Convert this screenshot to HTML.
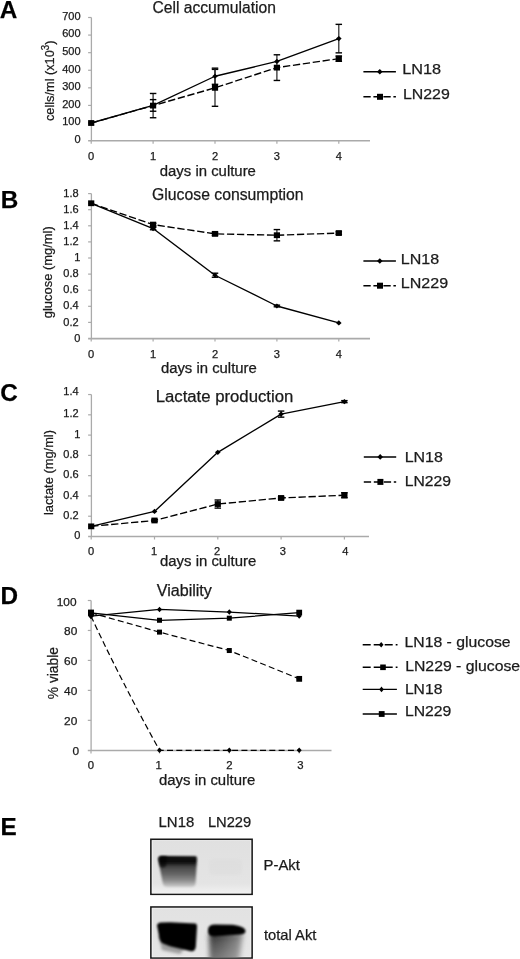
<!DOCTYPE html><html><head><meta charset="utf-8"><style>html,body{margin:0;padding:0;background:#fff;width:520px;height:959px;overflow:hidden}svg{display:block;font-family:"Liberation Sans",sans-serif;filter:grayscale(1)}text{stroke:#1a1a1a;stroke-width:0.25px;paint-order:stroke}</style></head><body>
<svg width="520" height="959" viewBox="0 0 520 959">
<rect width="520" height="959" fill="#fff"/>
<text x="-0.30" y="17.60" font-size="24.3" text-anchor="start" font-weight="bold" fill="#000">A</text>
<text x="0.80" y="207.90" font-size="24.3" text-anchor="start" font-weight="bold" fill="#000">B</text>
<text x="0.20" y="401.30" font-size="24.3" text-anchor="start" font-weight="bold" fill="#000">C</text>
<text x="0.60" y="604.00" font-size="24.3" text-anchor="start" font-weight="bold" fill="#000">D</text>
<text x="0.40" y="834.80" font-size="24.3" text-anchor="start" font-weight="bold" fill="#000">E</text>
<text x="152.50" y="12.50" font-size="16" text-anchor="start" font-weight="normal" fill="#1a1a1a" textLength="123.4" lengthAdjust="spacingAndGlyphs">Cell accumulation</text>
<line x1="91.40" y1="17.50" x2="91.40" y2="141.25" stroke="#aaaaaa" stroke-width="1.3"/>
<line x1="88.10" y1="140.75" x2="370.00" y2="140.75" stroke="#aaaaaa" stroke-width="1.6"/>
<line x1="88.10" y1="123.01" x2="91.40" y2="123.01" stroke="#aaaaaa" stroke-width="1.2"/>
<line x1="88.10" y1="105.43" x2="91.40" y2="105.43" stroke="#aaaaaa" stroke-width="1.2"/>
<line x1="88.10" y1="87.84" x2="91.40" y2="87.84" stroke="#aaaaaa" stroke-width="1.2"/>
<line x1="88.10" y1="70.26" x2="91.40" y2="70.26" stroke="#aaaaaa" stroke-width="1.2"/>
<line x1="88.10" y1="52.67" x2="91.40" y2="52.67" stroke="#aaaaaa" stroke-width="1.2"/>
<line x1="88.10" y1="35.08" x2="91.40" y2="35.08" stroke="#aaaaaa" stroke-width="1.2"/>
<line x1="88.10" y1="17.50" x2="91.40" y2="17.50" stroke="#aaaaaa" stroke-width="1.2"/>
<line x1="91.20" y1="140.75" x2="91.20" y2="143.75" stroke="#aaaaaa" stroke-width="1.2"/>
<line x1="153.10" y1="140.75" x2="153.10" y2="143.75" stroke="#aaaaaa" stroke-width="1.2"/>
<line x1="215.00" y1="140.75" x2="215.00" y2="143.75" stroke="#aaaaaa" stroke-width="1.2"/>
<line x1="276.90" y1="140.75" x2="276.90" y2="143.75" stroke="#aaaaaa" stroke-width="1.2"/>
<line x1="338.80" y1="140.75" x2="338.80" y2="143.75" stroke="#aaaaaa" stroke-width="1.2"/>
<text x="80.60" y="143.00" font-size="10.3" text-anchor="end" font-weight="normal" fill="#1a1a1a" textLength="6.13" lengthAdjust="spacingAndGlyphs">0</text>
<text x="80.60" y="125.41" font-size="10.3" text-anchor="end" font-weight="normal" fill="#1a1a1a" textLength="18.38" lengthAdjust="spacingAndGlyphs">100</text>
<text x="80.60" y="107.83" font-size="10.3" text-anchor="end" font-weight="normal" fill="#1a1a1a" textLength="18.38" lengthAdjust="spacingAndGlyphs">200</text>
<text x="80.60" y="90.24" font-size="10.3" text-anchor="end" font-weight="normal" fill="#1a1a1a" textLength="18.38" lengthAdjust="spacingAndGlyphs">300</text>
<text x="80.60" y="72.66" font-size="10.3" text-anchor="end" font-weight="normal" fill="#1a1a1a" textLength="18.38" lengthAdjust="spacingAndGlyphs">400</text>
<text x="80.60" y="55.07" font-size="10.3" text-anchor="end" font-weight="normal" fill="#1a1a1a" textLength="18.38" lengthAdjust="spacingAndGlyphs">500</text>
<text x="80.60" y="37.48" font-size="10.3" text-anchor="end" font-weight="normal" fill="#1a1a1a" textLength="18.38" lengthAdjust="spacingAndGlyphs">600</text>
<text x="80.60" y="19.90" font-size="10.3" text-anchor="end" font-weight="normal" fill="#1a1a1a" textLength="18.38" lengthAdjust="spacingAndGlyphs">700</text>
<text x="91.20" y="159.60" font-size="10.3" text-anchor="middle" font-weight="normal" fill="#1a1a1a" textLength="6.18" lengthAdjust="spacingAndGlyphs">0</text>
<text x="153.10" y="159.60" font-size="10.3" text-anchor="middle" font-weight="normal" fill="#1a1a1a" textLength="6.18" lengthAdjust="spacingAndGlyphs">1</text>
<text x="215.00" y="159.60" font-size="10.3" text-anchor="middle" font-weight="normal" fill="#1a1a1a" textLength="6.18" lengthAdjust="spacingAndGlyphs">2</text>
<text x="276.90" y="159.60" font-size="10.3" text-anchor="middle" font-weight="normal" fill="#1a1a1a" textLength="6.18" lengthAdjust="spacingAndGlyphs">3</text>
<text x="338.80" y="159.60" font-size="10.3" text-anchor="middle" font-weight="normal" fill="#1a1a1a" textLength="6.18" lengthAdjust="spacingAndGlyphs">4</text>
<text transform="translate(54.2,121) rotate(-90)" font-size="13.2" fill="#1a1a1a" textLength="80.4" lengthAdjust="spacingAndGlyphs">cells/ml (x10<tspan font-size="10" dy="-5">3</tspan><tspan dy="5">)</tspan></text>
<text x="159.80" y="175.90" font-size="14" text-anchor="start" font-weight="normal" fill="#1a1a1a" textLength="96.1" lengthAdjust="spacingAndGlyphs">days in culture</text>
<polyline points="91.20,123.01 153.10,105.60 215.00,87.84 276.90,67.62 338.80,58.65" fill="none" stroke="#000" stroke-width="1.35" stroke-linejoin="round" stroke-dasharray="7.3 2.7"/>
<polyline points="91.20,123.01 153.10,105.43 215.00,76.24 276.90,61.46 338.80,38.60" fill="none" stroke="#000" stroke-width="1.35" stroke-linejoin="round"/>
<line x1="153.10" y1="93.47" x2="153.10" y2="117.74" stroke="#222" stroke-width="1.2"/>
<line x1="149.85" y1="93.47" x2="156.35" y2="93.47" stroke="#000" stroke-width="1.4"/>
<line x1="149.85" y1="117.74" x2="156.35" y2="117.74" stroke="#000" stroke-width="1.4"/>
<line x1="215.00" y1="69.38" x2="215.00" y2="106.31" stroke="#222" stroke-width="1.2"/>
<line x1="211.75" y1="69.38" x2="218.25" y2="69.38" stroke="#000" stroke-width="1.4"/>
<line x1="211.75" y1="106.31" x2="218.25" y2="106.31" stroke="#000" stroke-width="1.4"/>
<line x1="276.90" y1="54.78" x2="276.90" y2="80.46" stroke="#222" stroke-width="1.2"/>
<line x1="273.65" y1="54.78" x2="280.15" y2="54.78" stroke="#000" stroke-width="1.4"/>
<line x1="273.65" y1="80.46" x2="280.15" y2="80.46" stroke="#000" stroke-width="1.4"/>
<line x1="338.80" y1="56.01" x2="338.80" y2="61.29" stroke="#222" stroke-width="1.2"/>
<line x1="335.55" y1="56.01" x2="342.05" y2="56.01" stroke="#000" stroke-width="1.4"/>
<line x1="335.55" y1="61.29" x2="342.05" y2="61.29" stroke="#000" stroke-width="1.4"/>
<line x1="153.10" y1="99.62" x2="153.10" y2="111.23" stroke="#222" stroke-width="1.2"/>
<line x1="149.85" y1="99.62" x2="156.35" y2="99.62" stroke="#000" stroke-width="1.4"/>
<line x1="149.85" y1="111.23" x2="156.35" y2="111.23" stroke="#000" stroke-width="1.4"/>
<line x1="215.00" y1="68.15" x2="215.00" y2="84.32" stroke="#222" stroke-width="1.2"/>
<line x1="211.75" y1="68.15" x2="218.25" y2="68.15" stroke="#000" stroke-width="1.4"/>
<line x1="211.75" y1="84.32" x2="218.25" y2="84.32" stroke="#000" stroke-width="1.4"/>
<line x1="338.80" y1="24.36" x2="338.80" y2="52.85" stroke="#222" stroke-width="1.2"/>
<line x1="335.55" y1="24.36" x2="342.05" y2="24.36" stroke="#000" stroke-width="1.4"/>
<line x1="335.55" y1="52.85" x2="342.05" y2="52.85" stroke="#000" stroke-width="1.4"/>
<rect x="88.10" y="120.11" width="6.2" height="5.8" fill="#000"/>
<rect x="150.00" y="102.70" width="6.2" height="5.8" fill="#000"/>
<rect x="211.90" y="84.94" width="6.2" height="5.8" fill="#000"/>
<rect x="273.80" y="64.72" width="6.2" height="5.8" fill="#000"/>
<rect x="335.70" y="55.75" width="6.2" height="5.8" fill="#000"/>
<path d="M91.20 120.41L94.00 123.01L91.20 125.61L88.40 123.01Z" fill="#000"/>
<path d="M153.10 102.83L155.90 105.43L153.10 108.03L150.30 105.43Z" fill="#000"/>
<path d="M215.00 73.64L217.80 76.24L215.00 78.84L212.20 76.24Z" fill="#000"/>
<path d="M276.90 58.86L279.70 61.46L276.90 64.06L274.10 61.46Z" fill="#000"/>
<path d="M338.80 36.00L341.60 38.60L338.80 41.20L336.00 38.60Z" fill="#000"/>
<line x1="363.40" y1="71.80" x2="395.90" y2="71.80" stroke="#000" stroke-width="1.5"/>
<path d="M379.80 69.00L382.60 71.80L379.80 74.60L377.00 71.80Z" fill="#000"/>
<text x="402.20" y="74.30" font-size="15" text-anchor="start" font-weight="normal" fill="#1a1a1a" textLength="38.9" lengthAdjust="spacingAndGlyphs">LN18</text>
<line x1="363.40" y1="96.80" x2="395.90" y2="96.80" stroke="#000" stroke-width="1.5" stroke-dasharray="7.3 2.7"/>
<rect x="377.00" y="93.80" width="6" height="6" fill="#000"/>
<text x="402.90" y="98.80" font-size="15" text-anchor="start" font-weight="normal" fill="#1a1a1a" textLength="46.9" lengthAdjust="spacingAndGlyphs">LN229</text>
<text x="152.10" y="199.90" font-size="16" text-anchor="start" font-weight="normal" fill="#1a1a1a" textLength="151.5" lengthAdjust="spacingAndGlyphs">Glucose consumption</text>
<line x1="91.40" y1="193.60" x2="91.40" y2="339.10" stroke="#aaaaaa" stroke-width="1.3"/>
<line x1="88.10" y1="338.60" x2="370.00" y2="338.60" stroke="#aaaaaa" stroke-width="1.6"/>
<line x1="88.10" y1="322.40" x2="91.40" y2="322.40" stroke="#aaaaaa" stroke-width="1.2"/>
<line x1="88.10" y1="306.30" x2="91.40" y2="306.30" stroke="#aaaaaa" stroke-width="1.2"/>
<line x1="88.10" y1="290.20" x2="91.40" y2="290.20" stroke="#aaaaaa" stroke-width="1.2"/>
<line x1="88.10" y1="274.10" x2="91.40" y2="274.10" stroke="#aaaaaa" stroke-width="1.2"/>
<line x1="88.10" y1="258.00" x2="91.40" y2="258.00" stroke="#aaaaaa" stroke-width="1.2"/>
<line x1="88.10" y1="241.90" x2="91.40" y2="241.90" stroke="#aaaaaa" stroke-width="1.2"/>
<line x1="88.10" y1="225.80" x2="91.40" y2="225.80" stroke="#aaaaaa" stroke-width="1.2"/>
<line x1="88.10" y1="209.70" x2="91.40" y2="209.70" stroke="#aaaaaa" stroke-width="1.2"/>
<line x1="88.10" y1="193.60" x2="91.40" y2="193.60" stroke="#aaaaaa" stroke-width="1.2"/>
<line x1="91.20" y1="338.60" x2="91.20" y2="341.60" stroke="#aaaaaa" stroke-width="1.2"/>
<line x1="153.10" y1="338.60" x2="153.10" y2="341.60" stroke="#aaaaaa" stroke-width="1.2"/>
<line x1="215.00" y1="338.60" x2="215.00" y2="341.60" stroke="#aaaaaa" stroke-width="1.2"/>
<line x1="276.90" y1="338.60" x2="276.90" y2="341.60" stroke="#aaaaaa" stroke-width="1.2"/>
<line x1="338.80" y1="338.60" x2="338.80" y2="341.60" stroke="#aaaaaa" stroke-width="1.2"/>
<text x="80.40" y="341.60" font-size="10.3" text-anchor="end" font-weight="normal" fill="#1a1a1a" textLength="6.13" lengthAdjust="spacingAndGlyphs">0</text>
<text x="78.60" y="325.50" font-size="10.3" text-anchor="end" font-weight="normal" fill="#1a1a1a" textLength="15.32" lengthAdjust="spacingAndGlyphs">0.2</text>
<text x="78.60" y="309.40" font-size="10.3" text-anchor="end" font-weight="normal" fill="#1a1a1a" textLength="15.32" lengthAdjust="spacingAndGlyphs">0.4</text>
<text x="78.60" y="293.30" font-size="10.3" text-anchor="end" font-weight="normal" fill="#1a1a1a" textLength="15.32" lengthAdjust="spacingAndGlyphs">0.6</text>
<text x="78.60" y="277.20" font-size="10.3" text-anchor="end" font-weight="normal" fill="#1a1a1a" textLength="15.32" lengthAdjust="spacingAndGlyphs">0.8</text>
<text x="80.40" y="261.10" font-size="10.3" text-anchor="end" font-weight="normal" fill="#1a1a1a" textLength="6.13" lengthAdjust="spacingAndGlyphs">1</text>
<text x="78.60" y="245.00" font-size="10.3" text-anchor="end" font-weight="normal" fill="#1a1a1a" textLength="15.32" lengthAdjust="spacingAndGlyphs">1.2</text>
<text x="78.60" y="228.90" font-size="10.3" text-anchor="end" font-weight="normal" fill="#1a1a1a" textLength="15.32" lengthAdjust="spacingAndGlyphs">1.4</text>
<text x="78.60" y="212.80" font-size="10.3" text-anchor="end" font-weight="normal" fill="#1a1a1a" textLength="15.32" lengthAdjust="spacingAndGlyphs">1.6</text>
<text x="78.60" y="196.70" font-size="10.3" text-anchor="end" font-weight="normal" fill="#1a1a1a" textLength="15.32" lengthAdjust="spacingAndGlyphs">1.8</text>
<text x="91.20" y="357.60" font-size="10.3" text-anchor="middle" font-weight="normal" fill="#1a1a1a" textLength="6.18" lengthAdjust="spacingAndGlyphs">0</text>
<text x="153.10" y="357.60" font-size="10.3" text-anchor="middle" font-weight="normal" fill="#1a1a1a" textLength="6.18" lengthAdjust="spacingAndGlyphs">1</text>
<text x="215.00" y="357.60" font-size="10.3" text-anchor="middle" font-weight="normal" fill="#1a1a1a" textLength="6.18" lengthAdjust="spacingAndGlyphs">2</text>
<text x="276.90" y="357.60" font-size="10.3" text-anchor="middle" font-weight="normal" fill="#1a1a1a" textLength="6.18" lengthAdjust="spacingAndGlyphs">3</text>
<text x="338.80" y="357.60" font-size="10.3" text-anchor="middle" font-weight="normal" fill="#1a1a1a" textLength="6.18" lengthAdjust="spacingAndGlyphs">4</text>
<text transform="translate(52.4,318.2) rotate(-90)" font-size="13" fill="#1a1a1a" textLength="91.9" lengthAdjust="spacingAndGlyphs">glucose (mg/ml)</text>
<text x="160.90" y="372.50" font-size="14" text-anchor="start" font-weight="normal" fill="#1a1a1a" textLength="95.9" lengthAdjust="spacingAndGlyphs">days in culture</text>
<polyline points="91.20,203.26 153.10,224.59 215.00,233.85 276.90,235.22 338.80,233.05" fill="none" stroke="#000" stroke-width="1.35" stroke-linejoin="round" stroke-dasharray="7.3 2.7"/>
<polyline points="91.20,203.26 153.10,228.54 215.00,275.23 276.90,305.98 338.80,322.96" fill="none" stroke="#000" stroke-width="1.35" stroke-linejoin="round"/>
<line x1="153.10" y1="223.38" x2="153.10" y2="225.80" stroke="#222" stroke-width="1.2"/>
<line x1="149.85" y1="223.38" x2="156.35" y2="223.38" stroke="#000" stroke-width="1.4"/>
<line x1="149.85" y1="225.80" x2="156.35" y2="225.80" stroke="#000" stroke-width="1.4"/>
<line x1="215.00" y1="232.24" x2="215.00" y2="235.46" stroke="#222" stroke-width="1.2"/>
<line x1="211.75" y1="232.24" x2="218.25" y2="232.24" stroke="#000" stroke-width="1.4"/>
<line x1="211.75" y1="235.46" x2="218.25" y2="235.46" stroke="#000" stroke-width="1.4"/>
<line x1="276.90" y1="229.58" x2="276.90" y2="240.85" stroke="#222" stroke-width="1.2"/>
<line x1="273.65" y1="229.58" x2="280.15" y2="229.58" stroke="#000" stroke-width="1.4"/>
<line x1="273.65" y1="240.85" x2="280.15" y2="240.85" stroke="#000" stroke-width="1.4"/>
<line x1="338.80" y1="231.84" x2="338.80" y2="234.25" stroke="#222" stroke-width="1.2"/>
<line x1="335.55" y1="231.84" x2="342.05" y2="231.84" stroke="#000" stroke-width="1.4"/>
<line x1="335.55" y1="234.25" x2="342.05" y2="234.25" stroke="#000" stroke-width="1.4"/>
<line x1="153.10" y1="227.33" x2="153.10" y2="229.74" stroke="#222" stroke-width="1.2"/>
<line x1="149.85" y1="227.33" x2="156.35" y2="227.33" stroke="#000" stroke-width="1.4"/>
<line x1="149.85" y1="229.74" x2="156.35" y2="229.74" stroke="#000" stroke-width="1.4"/>
<line x1="215.00" y1="273.21" x2="215.00" y2="277.24" stroke="#222" stroke-width="1.2"/>
<line x1="211.75" y1="273.21" x2="218.25" y2="273.21" stroke="#000" stroke-width="1.4"/>
<line x1="211.75" y1="277.24" x2="218.25" y2="277.24" stroke="#000" stroke-width="1.4"/>
<line x1="276.90" y1="305.17" x2="276.90" y2="306.78" stroke="#222" stroke-width="1.2"/>
<line x1="273.65" y1="305.17" x2="280.15" y2="305.17" stroke="#000" stroke-width="1.4"/>
<line x1="273.65" y1="306.78" x2="280.15" y2="306.78" stroke="#000" stroke-width="1.4"/>
<rect x="88.10" y="200.36" width="6.2" height="5.8" fill="#000"/>
<rect x="150.00" y="221.69" width="6.2" height="5.8" fill="#000"/>
<rect x="211.90" y="230.95" width="6.2" height="5.8" fill="#000"/>
<rect x="273.80" y="232.32" width="6.2" height="5.8" fill="#000"/>
<rect x="335.70" y="230.15" width="6.2" height="5.8" fill="#000"/>
<path d="M91.20 200.66L94.00 203.26L91.20 205.86L88.40 203.26Z" fill="#000"/>
<path d="M153.10 225.94L155.90 228.54L153.10 231.14L150.30 228.54Z" fill="#000"/>
<path d="M215.00 272.63L217.80 275.23L215.00 277.83L212.20 275.23Z" fill="#000"/>
<path d="M276.90 303.38L279.70 305.98L276.90 308.58L274.10 305.98Z" fill="#000"/>
<path d="M338.80 320.36L341.60 322.96L338.80 325.56L336.00 322.96Z" fill="#000"/>
<line x1="363.40" y1="261.00" x2="395.90" y2="261.00" stroke="#000" stroke-width="1.5"/>
<path d="M379.80 258.20L382.60 261.00L379.80 263.80L377.00 261.00Z" fill="#000"/>
<text x="400.80" y="263.50" font-size="15" text-anchor="start" font-weight="normal" fill="#1a1a1a" textLength="38.3" lengthAdjust="spacingAndGlyphs">LN18</text>
<line x1="363.40" y1="285.70" x2="395.90" y2="285.70" stroke="#000" stroke-width="1.5" stroke-dasharray="7.3 2.7"/>
<rect x="377.00" y="282.70" width="6" height="6" fill="#000"/>
<text x="400.80" y="287.50" font-size="15" text-anchor="start" font-weight="normal" fill="#1a1a1a" textLength="47.3" lengthAdjust="spacingAndGlyphs">LN229</text>
<text x="155.70" y="401.60" font-size="16" text-anchor="start" font-weight="normal" fill="#1a1a1a" textLength="137.6" lengthAdjust="spacingAndGlyphs">Lactate production</text>
<line x1="91.40" y1="394.54" x2="91.40" y2="537.00" stroke="#aaaaaa" stroke-width="1.3"/>
<line x1="88.10" y1="536.50" x2="369.00" y2="536.50" stroke="#aaaaaa" stroke-width="1.6"/>
<line x1="88.10" y1="516.22" x2="91.40" y2="516.22" stroke="#aaaaaa" stroke-width="1.2"/>
<line x1="88.10" y1="495.94" x2="91.40" y2="495.94" stroke="#aaaaaa" stroke-width="1.2"/>
<line x1="88.10" y1="475.66" x2="91.40" y2="475.66" stroke="#aaaaaa" stroke-width="1.2"/>
<line x1="88.10" y1="455.38" x2="91.40" y2="455.38" stroke="#aaaaaa" stroke-width="1.2"/>
<line x1="88.10" y1="435.10" x2="91.40" y2="435.10" stroke="#aaaaaa" stroke-width="1.2"/>
<line x1="88.10" y1="414.82" x2="91.40" y2="414.82" stroke="#aaaaaa" stroke-width="1.2"/>
<line x1="88.10" y1="394.54" x2="91.40" y2="394.54" stroke="#aaaaaa" stroke-width="1.2"/>
<line x1="91.20" y1="536.50" x2="91.20" y2="539.50" stroke="#aaaaaa" stroke-width="1.2"/>
<line x1="154.50" y1="536.50" x2="154.50" y2="539.50" stroke="#aaaaaa" stroke-width="1.2"/>
<line x1="217.80" y1="536.50" x2="217.80" y2="539.50" stroke="#aaaaaa" stroke-width="1.2"/>
<line x1="281.10" y1="536.50" x2="281.10" y2="539.50" stroke="#aaaaaa" stroke-width="1.2"/>
<line x1="344.40" y1="536.50" x2="344.40" y2="539.50" stroke="#aaaaaa" stroke-width="1.2"/>
<text x="80.40" y="539.10" font-size="10.3" text-anchor="end" font-weight="normal" fill="#1a1a1a" textLength="6.13" lengthAdjust="spacingAndGlyphs">0</text>
<text x="78.60" y="518.82" font-size="10.3" text-anchor="end" font-weight="normal" fill="#1a1a1a" textLength="15.32" lengthAdjust="spacingAndGlyphs">0.2</text>
<text x="78.60" y="498.54" font-size="10.3" text-anchor="end" font-weight="normal" fill="#1a1a1a" textLength="15.32" lengthAdjust="spacingAndGlyphs">0.4</text>
<text x="78.60" y="478.26" font-size="10.3" text-anchor="end" font-weight="normal" fill="#1a1a1a" textLength="15.32" lengthAdjust="spacingAndGlyphs">0.6</text>
<text x="78.60" y="457.98" font-size="10.3" text-anchor="end" font-weight="normal" fill="#1a1a1a" textLength="15.32" lengthAdjust="spacingAndGlyphs">0.8</text>
<text x="80.40" y="437.70" font-size="10.3" text-anchor="end" font-weight="normal" fill="#1a1a1a" textLength="6.13" lengthAdjust="spacingAndGlyphs">1</text>
<text x="78.60" y="417.42" font-size="10.3" text-anchor="end" font-weight="normal" fill="#1a1a1a" textLength="15.32" lengthAdjust="spacingAndGlyphs">1.2</text>
<text x="78.60" y="395.14" font-size="10.3" text-anchor="end" font-weight="normal" fill="#1a1a1a" textLength="15.32" lengthAdjust="spacingAndGlyphs">1.4</text>
<text x="91.20" y="555.00" font-size="10.3" text-anchor="middle" font-weight="normal" fill="#1a1a1a" textLength="6.18" lengthAdjust="spacingAndGlyphs">0</text>
<text x="154.00" y="555.00" font-size="10.3" text-anchor="middle" font-weight="normal" fill="#1a1a1a" textLength="6.18" lengthAdjust="spacingAndGlyphs">1</text>
<text x="217.00" y="555.00" font-size="10.3" text-anchor="middle" font-weight="normal" fill="#1a1a1a" textLength="6.18" lengthAdjust="spacingAndGlyphs">2</text>
<text x="282.80" y="555.00" font-size="10.3" text-anchor="middle" font-weight="normal" fill="#1a1a1a" textLength="6.18" lengthAdjust="spacingAndGlyphs">3</text>
<text x="345.30" y="555.00" font-size="10.3" text-anchor="middle" font-weight="normal" fill="#1a1a1a" textLength="6.18" lengthAdjust="spacingAndGlyphs">4</text>
<text transform="translate(53.2,515.1) rotate(-90)" font-size="13" fill="#1a1a1a" textLength="85.1" lengthAdjust="spacingAndGlyphs">lactate (mg/ml)</text>
<text x="160.00" y="566.00" font-size="14" text-anchor="start" font-weight="normal" fill="#1a1a1a" textLength="96.2" lengthAdjust="spacingAndGlyphs">days in culture</text>
<polyline points="91.20,526.36 154.50,520.48 217.80,504.05 281.10,497.97 344.40,495.23" fill="none" stroke="#000" stroke-width="1.35" stroke-linejoin="round" stroke-dasharray="7.3 2.7"/>
<polyline points="91.20,526.36 154.50,511.45 217.80,452.34 281.10,414.11 344.40,401.64" fill="none" stroke="#000" stroke-width="1.35" stroke-linejoin="round"/>
<line x1="154.50" y1="519.46" x2="154.50" y2="521.49" stroke="#222" stroke-width="1.2"/>
<line x1="151.25" y1="519.46" x2="157.75" y2="519.46" stroke="#000" stroke-width="1.4"/>
<line x1="151.25" y1="521.49" x2="157.75" y2="521.49" stroke="#000" stroke-width="1.4"/>
<line x1="217.80" y1="500.00" x2="217.80" y2="508.11" stroke="#222" stroke-width="1.2"/>
<line x1="214.55" y1="500.00" x2="221.05" y2="500.00" stroke="#000" stroke-width="1.4"/>
<line x1="214.55" y1="508.11" x2="221.05" y2="508.11" stroke="#000" stroke-width="1.4"/>
<line x1="281.10" y1="496.95" x2="281.10" y2="498.98" stroke="#222" stroke-width="1.2"/>
<line x1="277.85" y1="496.95" x2="284.35" y2="496.95" stroke="#000" stroke-width="1.4"/>
<line x1="277.85" y1="498.98" x2="284.35" y2="498.98" stroke="#000" stroke-width="1.4"/>
<line x1="344.40" y1="492.70" x2="344.40" y2="497.77" stroke="#222" stroke-width="1.2"/>
<line x1="341.15" y1="492.70" x2="347.65" y2="492.70" stroke="#000" stroke-width="1.4"/>
<line x1="341.15" y1="497.77" x2="347.65" y2="497.77" stroke="#000" stroke-width="1.4"/>
<line x1="281.10" y1="411.07" x2="281.10" y2="417.15" stroke="#222" stroke-width="1.2"/>
<line x1="277.85" y1="411.07" x2="284.35" y2="411.07" stroke="#000" stroke-width="1.4"/>
<line x1="277.85" y1="417.15" x2="284.35" y2="417.15" stroke="#000" stroke-width="1.4"/>
<line x1="344.40" y1="400.62" x2="344.40" y2="402.65" stroke="#222" stroke-width="1.2"/>
<line x1="341.15" y1="400.62" x2="347.65" y2="400.62" stroke="#000" stroke-width="1.4"/>
<line x1="341.15" y1="402.65" x2="347.65" y2="402.65" stroke="#000" stroke-width="1.4"/>
<rect x="88.10" y="523.46" width="6.2" height="5.8" fill="#000"/>
<rect x="151.40" y="517.58" width="6.2" height="5.8" fill="#000"/>
<rect x="214.70" y="501.15" width="6.2" height="5.8" fill="#000"/>
<rect x="278.00" y="495.07" width="6.2" height="5.8" fill="#000"/>
<rect x="341.30" y="492.33" width="6.2" height="5.8" fill="#000"/>
<path d="M91.20 523.76L94.00 526.36L91.20 528.96L88.40 526.36Z" fill="#000"/>
<path d="M154.50 508.85L157.30 511.45L154.50 514.05L151.70 511.45Z" fill="#000"/>
<path d="M217.80 449.74L220.60 452.34L217.80 454.94L215.00 452.34Z" fill="#000"/>
<path d="M281.10 411.51L283.90 414.11L281.10 416.71L278.30 414.11Z" fill="#000"/>
<path d="M344.40 399.04L347.20 401.64L344.40 404.24L341.60 401.64Z" fill="#000"/>
<line x1="363.80" y1="456.90" x2="396.20" y2="456.90" stroke="#000" stroke-width="1.5"/>
<path d="M380.20 454.10L383.00 456.90L380.20 459.70L377.40 456.90Z" fill="#000"/>
<text x="404.70" y="462.30" font-size="15" text-anchor="start" font-weight="normal" fill="#1a1a1a" textLength="38.2" lengthAdjust="spacingAndGlyphs">LN18</text>
<line x1="363.80" y1="481.90" x2="396.20" y2="481.90" stroke="#000" stroke-width="1.5" stroke-dasharray="7.3 2.7"/>
<rect x="377.40" y="478.90" width="6" height="6" fill="#000"/>
<text x="404.70" y="486.30" font-size="15" text-anchor="start" font-weight="normal" fill="#1a1a1a" textLength="46.3" lengthAdjust="spacingAndGlyphs">LN229</text>
<text x="156.70" y="595.80" font-size="16" text-anchor="start" font-weight="normal" fill="#1a1a1a" textLength="55.2" lengthAdjust="spacingAndGlyphs">Viability</text>
<line x1="91.10" y1="600.50" x2="91.10" y2="751.05" stroke="#aaaaaa" stroke-width="1.3"/>
<line x1="87.80" y1="750.55" x2="331.50" y2="750.55" stroke="#aaaaaa" stroke-width="1.6"/>
<line x1="87.80" y1="720.34" x2="91.10" y2="720.34" stroke="#aaaaaa" stroke-width="1.2"/>
<line x1="87.80" y1="690.38" x2="91.10" y2="690.38" stroke="#aaaaaa" stroke-width="1.2"/>
<line x1="87.80" y1="660.42" x2="91.10" y2="660.42" stroke="#aaaaaa" stroke-width="1.2"/>
<line x1="87.80" y1="630.46" x2="91.10" y2="630.46" stroke="#aaaaaa" stroke-width="1.2"/>
<line x1="87.80" y1="600.50" x2="91.10" y2="600.50" stroke="#aaaaaa" stroke-width="1.2"/>
<line x1="91.00" y1="750.55" x2="91.00" y2="753.55" stroke="#aaaaaa" stroke-width="1.2"/>
<line x1="159.50" y1="750.55" x2="159.50" y2="753.55" stroke="#aaaaaa" stroke-width="1.2"/>
<line x1="229.30" y1="750.55" x2="229.30" y2="753.55" stroke="#aaaaaa" stroke-width="1.2"/>
<line x1="299.20" y1="750.55" x2="299.20" y2="753.55" stroke="#aaaaaa" stroke-width="1.2"/>
<text x="79.20" y="754.50" font-size="10.8" text-anchor="end" font-weight="normal" fill="#1a1a1a" textLength="6.61" lengthAdjust="spacingAndGlyphs">0</text>
<text x="77.30" y="724.54" font-size="10.8" text-anchor="end" font-weight="normal" fill="#1a1a1a" textLength="13.21" lengthAdjust="spacingAndGlyphs">20</text>
<text x="77.30" y="694.58" font-size="10.8" text-anchor="end" font-weight="normal" fill="#1a1a1a" textLength="13.21" lengthAdjust="spacingAndGlyphs">40</text>
<text x="77.30" y="664.62" font-size="10.8" text-anchor="end" font-weight="normal" fill="#1a1a1a" textLength="13.21" lengthAdjust="spacingAndGlyphs">60</text>
<text x="77.30" y="634.66" font-size="10.8" text-anchor="end" font-weight="normal" fill="#1a1a1a" textLength="13.21" lengthAdjust="spacingAndGlyphs">80</text>
<text x="76.50" y="605.90" font-size="10.8" text-anchor="end" font-weight="normal" fill="#1a1a1a" textLength="19.82" lengthAdjust="spacingAndGlyphs">100</text>
<text x="91.00" y="768.80" font-size="10.5" text-anchor="middle" font-weight="normal" fill="#1a1a1a" textLength="6.31" lengthAdjust="spacingAndGlyphs">0</text>
<text x="158.60" y="768.80" font-size="10.5" text-anchor="middle" font-weight="normal" fill="#1a1a1a" textLength="6.31" lengthAdjust="spacingAndGlyphs">1</text>
<text x="229.50" y="768.80" font-size="10.5" text-anchor="middle" font-weight="normal" fill="#1a1a1a" textLength="6.31" lengthAdjust="spacingAndGlyphs">2</text>
<text x="300.40" y="768.80" font-size="10.5" text-anchor="middle" font-weight="normal" fill="#1a1a1a" textLength="6.31" lengthAdjust="spacingAndGlyphs">3</text>
<text transform="translate(58.4,699.2) rotate(-90)" font-size="14.5" fill="#1a1a1a" textLength="52.1" lengthAdjust="spacingAndGlyphs">% viable</text>
<text x="159.00" y="785.40" font-size="14" text-anchor="start" font-weight="normal" fill="#1a1a1a" textLength="96.2" lengthAdjust="spacingAndGlyphs">days in culture</text>
<path d="M91.0 616.23 Q122.2 683 159.5 750.30 L229.3 750.30 L299.2 750.30" fill="none" stroke="#000" stroke-width="1.2" stroke-dasharray="6 3.3"/>
<polyline points="91.00,612.78 159.50,632.11 229.30,650.53 299.20,678.85" fill="none" stroke="#000" stroke-width="1.2" stroke-linejoin="round" stroke-dasharray="6 3.3"/>
<polyline points="91.00,616.23 159.50,609.49 229.30,612.03 299.20,616.08" fill="none" stroke="#000" stroke-width="1.25" stroke-linejoin="round"/>
<polyline points="91.00,612.78 159.50,620.27 229.30,618.18 299.20,612.63" fill="none" stroke="#000" stroke-width="1.25" stroke-linejoin="round"/>
<rect x="88.00" y="609.78" width="6.0" height="6.0" fill="#000"/>
<rect x="157.00" y="629.61" width="5.0" height="5.0" fill="#000"/>
<rect x="226.80" y="648.03" width="5.0" height="5.0" fill="#000"/>
<rect x="296.30" y="675.95" width="5.8" height="5.8" fill="#000"/>
<rect x="88.00" y="609.78" width="6.0" height="6.0" fill="#000"/>
<rect x="157.00" y="617.77" width="5.0" height="5.0" fill="#000"/>
<rect x="226.80" y="615.68" width="5.0" height="5.0" fill="#000"/>
<rect x="296.30" y="609.73" width="5.8" height="5.8" fill="#000"/>
<path d="M91.00 613.53L93.50 616.23L91.00 618.93L88.50 616.23Z" fill="#000"/>
<path d="M159.50 747.60L162.00 750.30L159.50 753.00L157.00 750.30Z" fill="#000"/>
<path d="M229.30 747.60L231.80 750.30L229.30 753.00L226.80 750.30Z" fill="#000"/>
<path d="M299.20 747.60L301.70 750.30L299.20 753.00L296.70 750.30Z" fill="#000"/>
<path d="M91.00 613.53L93.50 616.23L91.00 618.93L88.50 616.23Z" fill="#000"/>
<path d="M159.50 606.79L162.00 609.49L159.50 612.19L157.00 609.49Z" fill="#000"/>
<path d="M229.30 609.33L231.80 612.03L229.30 614.73L226.80 612.03Z" fill="#000"/>
<path d="M299.20 613.38L301.70 616.08L299.20 618.78L296.70 616.08Z" fill="#000"/>
<line x1="362.70" y1="644.70" x2="397.50" y2="644.70" stroke="#000" stroke-width="1.4" stroke-dasharray="8 3"/>
<path d="M381.20 641.90L383.50 644.70L381.20 647.50L378.90 644.70Z" fill="#000"/>
<text x="404.50" y="646.80" font-size="15" text-anchor="start" font-weight="normal" fill="#1a1a1a" textLength="106.1" lengthAdjust="spacingAndGlyphs">LN18 - glucose</text>
<line x1="362.70" y1="667.30" x2="397.50" y2="667.30" stroke="#000" stroke-width="1.4" stroke-dasharray="8 3"/>
<rect x="380.20" y="664.50" width="5.6" height="5.6" fill="#000"/>
<text x="405.20" y="670.80" font-size="15" text-anchor="start" font-weight="normal" fill="#1a1a1a" textLength="114.9" lengthAdjust="spacingAndGlyphs">LN229 - glucose</text>
<line x1="362.70" y1="689.40" x2="396.90" y2="689.40" stroke="#000" stroke-width="1.4"/>
<path d="M381.50 686.60L383.80 689.40L381.50 692.20L379.20 689.40Z" fill="#000"/>
<text x="404.90" y="693.50" font-size="15" text-anchor="start" font-weight="normal" fill="#1a1a1a" textLength="37.5" lengthAdjust="spacingAndGlyphs">LN18</text>
<line x1="362.70" y1="714.00" x2="396.90" y2="714.00" stroke="#000" stroke-width="1.4"/>
<rect x="378.80" y="711.10" width="5.8" height="5.8" fill="#000"/>
<text x="404.90" y="716.30" font-size="15" text-anchor="start" font-weight="normal" fill="#1a1a1a" textLength="46.5" lengthAdjust="spacingAndGlyphs">LN229</text>
<text x="158.60" y="827.00" font-size="14.5" text-anchor="start" font-weight="normal" fill="#1a1a1a" textLength="35.6" lengthAdjust="spacingAndGlyphs">LN18</text>
<text x="207.90" y="827.00" font-size="14.5" text-anchor="start" font-weight="normal" fill="#1a1a1a" textLength="43.3" lengthAdjust="spacingAndGlyphs">LN229</text>
<text x="263.60" y="870.40" font-size="14.5" text-anchor="start" font-weight="normal" fill="#1a1a1a" textLength="36.3" lengthAdjust="spacingAndGlyphs">P-Akt</text>
<text x="264.00" y="939.60" font-size="14.5" text-anchor="start" font-weight="normal" fill="#1a1a1a" textLength="52.4" lengthAdjust="spacingAndGlyphs">total Akt</text>
<defs>
<filter id="bl1" x="-30%" y="-30%" width="160%" height="160%"><feGaussianBlur stdDeviation="1.1"/></filter>
<filter id="bl2" x="-30%" y="-30%" width="160%" height="160%"><feGaussianBlur stdDeviation="1.8"/></filter>
<filter id="bl3" x="-30%" y="-30%" width="160%" height="160%"><feGaussianBlur stdDeviation="2.6"/></filter>
<linearGradient id="bg1" x1="0" y1="0" x2="0" y2="1"><stop offset="0" stop-color="#e0e0e0"/><stop offset="0.8" stop-color="#e4e4e4"/><stop offset="0.9" stop-color="#ebebeb"/><stop offset="1" stop-color="#f3f3f3"/></linearGradient>
<linearGradient id="bg2" x1="0" y1="0" x2="0" y2="1"><stop offset="0" stop-color="#e2e2e2"/><stop offset="1" stop-color="#e6e6e6"/></linearGradient>
<linearGradient id="pk" gradientUnits="userSpaceOnUse" x1="0" y1="856" x2="0" y2="889">
<stop offset="0" stop-color="#050505"/><stop offset="0.15" stop-color="#0a0a0a"/><stop offset="0.27" stop-color="#2a2a2a"/>
<stop offset="0.33" stop-color="#484848"/><stop offset="0.55" stop-color="#656565"/><stop offset="0.73" stop-color="#8a8a8a"/>
<stop offset="0.85" stop-color="#b0b0b0"/><stop offset="0.97" stop-color="#d8d8d8"/><stop offset="1" stop-color="#dedede"/></linearGradient>
<linearGradient id="sm2" gradientUnits="userSpaceOnUse" x1="0" y1="934" x2="0" y2="958"><stop offset="0" stop-color="#1e1e1e"/><stop offset="0.3" stop-color="#464646"/><stop offset="1" stop-color="#6e6e6e"/></linearGradient>
<linearGradient id="sm2h" gradientUnits="userSpaceOnUse" x1="208" y1="0" x2="244" y2="0"><stop offset="0" stop-color="#e4e4e4" stop-opacity="0"/><stop offset="0.35" stop-color="#e4e4e4" stop-opacity="0.12"/><stop offset="0.75" stop-color="#e4e4e4" stop-opacity="0.35"/><stop offset="1" stop-color="#e4e4e4" stop-opacity="0.6"/></linearGradient>
<clipPath id="c1"><rect x="151.7" y="840.1" width="99.6" height="53.4"/></clipPath>
<clipPath id="c2"><rect x="151.7" y="907.8" width="99.6" height="49.5"/></clipPath>
</defs>
<rect x="150.9" y="839.3" width="101.2" height="55" fill="url(#bg1)" stroke="#181818" stroke-width="1.6"/>
<rect x="152.3" y="840.6" width="98.4" height="52.4" fill="none" stroke="#f2f2f2" stroke-width="0.9" opacity="0.8"/>
<g clip-path="url(#c1)">
<rect x="209" y="859" width="33" height="16" rx="4" fill="#d0d0d0" opacity="0.2" filter="url(#bl2)"/>
<path d="M158.2 859 Q158.3 856.3 161.5 856 L195.5 856.3 Q197.2 856.6 197 859 L195.6 883 Q195.2 887 191.5 887 L168 887 Q163.5 887 162.8 883.5 L159 864 Z" fill="url(#pk)" filter="url(#bl1)"/>
<path d="M158.5 858 Q159 856 162 856 L167 856.5 L166 866 Q162 869 160 866 Z" fill="#000" opacity="0.6" filter="url(#bl1)"/>
</g>
<rect x="150.9" y="907.0" width="101.2" height="51" fill="url(#bg2)" stroke="#181818" stroke-width="1.6"/>
<rect x="152.3" y="908.3" width="98.4" height="48.5" fill="none" stroke="#f2f2f2" stroke-width="0.9" opacity="0.8"/>
<g clip-path="url(#c2)">
<g filter="url(#bl3)"><path d="M209 934 L243 933 L239 962 L209.5 962 Z" fill="url(#sm2)"/><path d="M209 934 L243 933 L239 962 L209.5 962 Z" fill="url(#sm2h)"/></g>
<path d="M158 935 L170 940 L185 948 L180 954 L162 950 Z" fill="#555" opacity="0.5" filter="url(#bl2)"/>
<path d="M157 925.5 Q157.3 922.6 161 922.4 L170 922.2 L195.5 923.6 Q197.3 924 197 927 L195.8 947 Q195 951.8 191 951.2 L170 946.3 L163 943.5 Q160.3 942 159.5 938.5 Z" fill="#000" filter="url(#bl1)"/>
<path d="M208 930.5 C208 925.5 211 924.4 216 924.4 L232 924.8 C238 925.4 245.5 927.5 245.5 931 C245.5 934 242 934.6 238 934.8 L216 936.6 C210 936.9 208 935 208 930.5 Z" fill="#000" filter="url(#bl1)"/>
</g>
</svg></body></html>
